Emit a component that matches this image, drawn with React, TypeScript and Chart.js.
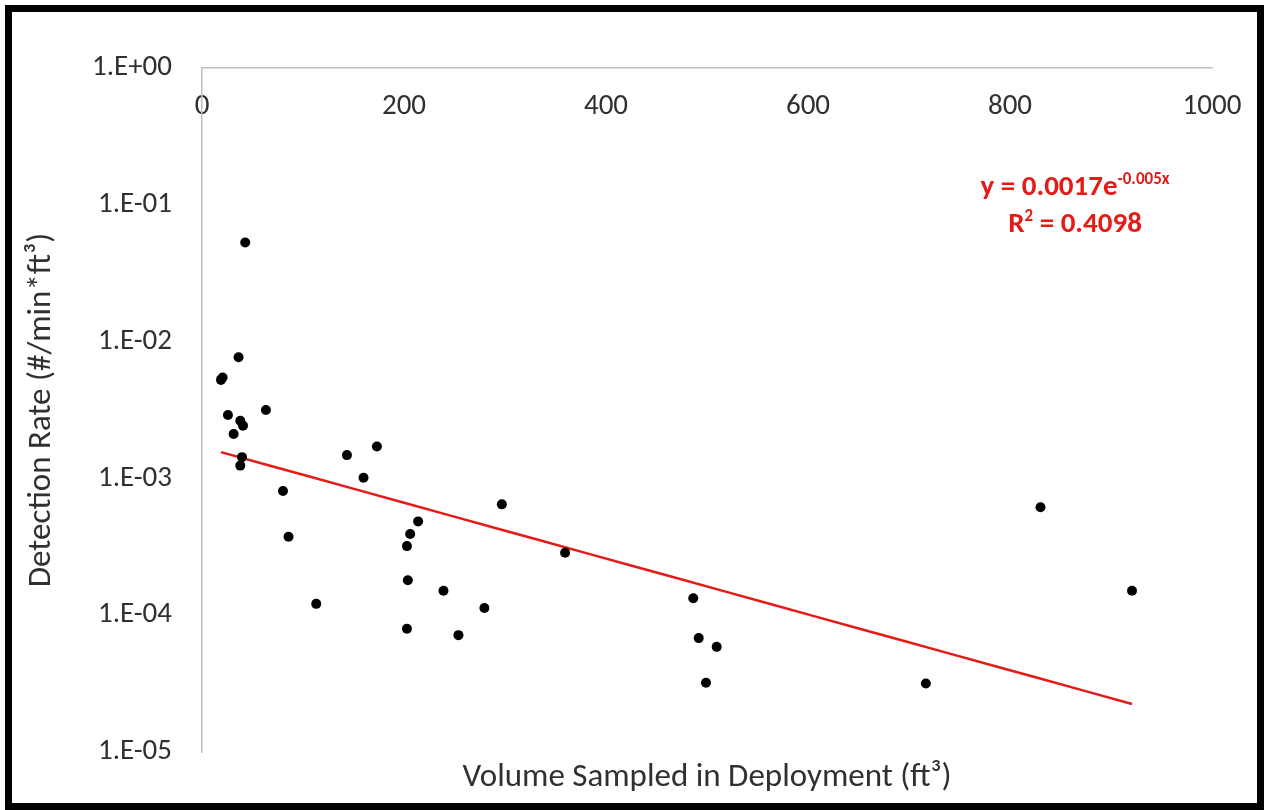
import { useEffect, useRef } from "react";
import { Chart, registerables } from "chart.js";

Chart.register(...registerables);

// Deployment volume (ft³) and detection rate (#/min*ft³) for each sample
const volumeSampled = [
  42.8, 18.8, 20.4, 36.2, 25.7, 63.3, 37.9, 40.6, 31.3, 39.6, 37.9, 80.2, 85.7,
  113.1, 143.5, 159.9, 173.2, 214, 206.1, 202.9, 203.8, 202.9, 296.9, 239.1,
  279.6, 253.9, 359.5, 486.4, 491.8, 509.6, 499, 716.7, 830.2, 920.8,
];
const detectionRate = [
  0.053, 0.00525, 0.00546, 0.00769, 0.00291, 0.00316, 0.00264, 0.00243,
  0.00211, 0.00143, 0.00124, 0.00081, 0.000375, 0.000121, 0.00148, 0.00101,
  0.00171, 0.000485, 0.000392, 0.00032, 0.00018, 0.0000796, 0.000646,
  0.000151, 0.000113, 0.0000715, 0.000286, 0.000133, 0.000068, 0.0000587,
  0.0000321, 0.0000317, 0.000615, 0.000151,
];

const xTickValues = [0, 200, 400, 600, 800, 1000];
const yTickValues = [1e-5, 1e-4, 1e-3, 1e-2, 1e-1, 1];

// Exponential fit y = a·e^(b·x)
const trendCoefficient = 0.0017;
const trendRate = -0.0047;
const rSquared = 0.4098;

const FONT_FAMILY = "Carlito, Lato, 'Open Sans', sans-serif";
const TEXT_COLOR = "#303030";
const AXIS_COLOR = "#bfbfbf";
const FIT_COLOR = "#e41b17";

const formatPower = (v: number) => {
  const e = Math.round(Math.log10(v));
  return "1.E" + (e < 0 ? "-" : "+") + String(Math.abs(e)).padStart(2, "0");
};

// Trend curve sampled across the data range
const xMin = Math.min(...volumeSampled);
const xMax = Math.max(...volumeSampled);
const trendPoints = Array.from({ length: 21 }, (_, i) => {
  const x = xMin + ((xMax - xMin) * i) / 20;
  return { x, y: trendCoefficient * Math.exp(trendRate * x) };
});

// Draws the fit equation and R² in the upper right of the plot
const equationPlugin = {
  id: "fitEquation",
  afterDatasetsDraw(chart: Chart) {
    const { ctx } = chart;
    const mainFont = `bold 29px ${FONT_FAMILY}`;
    const supFont = `bold 17px ${FONT_FAMILY}`;
    const cx = 1075;
    const lines = [
      { parts: [{ t: `y = ${trendCoefficient}e`, sup: false }, { t: `${trendRate.toFixed(3)}x`, sup: true }], y: 195 },
      { parts: [{ t: "R", sup: false }, { t: "2", sup: true }, { t: ` = ${rSquared}`, sup: false }], y: 232 },
    ];
    ctx.save();
    ctx.fillStyle = FIT_COLOR;
    ctx.textBaseline = "alphabetic";
    ctx.textAlign = "left";
    for (const line of lines) {
      const widths = line.parts.map((p) => {
        ctx.font = p.sup ? supFont : mainFont;
        return ctx.measureText(p.t).width;
      });
      const total = widths.reduce((a, b) => a + b, 0);
      let x = cx - total / 2;
      line.parts.forEach((p, i) => {
        ctx.font = p.sup ? supFont : mainFont;
        ctx.fillText(p.t, x, p.sup ? line.y - 11 : line.y);
        x += widths[i];
      });
    }
    ctx.restore();
  },
};

export default function App() {
  const canvasRef = useRef<HTMLCanvasElement>(null);

  useEffect(() => {
    const canvas = canvasRef.current;
    if (!canvas) return;
    const tickFont = { family: FONT_FAMILY, size: 29 };
    const titleFont = { family: FONT_FAMILY, size: 33 };
    const chart = new Chart(canvas, {
      type: "scatter",
      data: {
        datasets: [
          {
            type: "scatter",
            data: volumeSampled.map((x, i) => ({ x, y: detectionRate[i] })),
            backgroundColor: "#000000",
            borderWidth: 0,
            pointRadius: 5,
            pointHoverRadius: 5,
            clip: false,
          },
          {
            type: "line",
            data: trendPoints,
            borderColor: FIT_COLOR,
            borderWidth: 2.5,
            pointRadius: 0,
            fill: false,
            tension: 0,
          },
        ],
      },
      plugins: [equationPlugin],
      options: {
        responsive: false,
        animation: false,
        layout: { padding: { left: 0, top: 0, right: 52, bottom: 0 } },
        plugins: {
          legend: { display: false },
          tooltip: { enabled: false },
        },
        scales: {
          x: {
            type: "linear",
            position: "top",
            min: 0,
            max: 1000,
            afterBuildTicks: (s: any) => {
              s.ticks = xTickValues.map((value) => ({ value }));
            },
            afterFit: (s: any) => {
              s.height = 68;
            },
            grid: { display: false, drawTicks: false },
            border: { display: true, color: AXIS_COLOR, width: 1.5 },
            ticks: {
              mirror: true,
              padding: 21,
              maxRotation: 0,
              autoSkip: false,
              font: tickFont,
              color: TEXT_COLOR,
              callback: (v: any) => String(v),
            },
          },
          x2: {
            type: "linear",
            position: "bottom",
            min: 0,
            max: 1000,
            afterFit: (s: any) => {
              s.height = 58;
            },
            grid: { display: false, drawTicks: false },
            border: { display: false },
            ticks: { display: false },
            title: {
              display: true,
              text: "Volume Sampled in Deployment (ft³)",
              font: titleFont,
              color: TEXT_COLOR,
              padding: { top: 0, bottom: 12 },
            },
          },
          y: {
            type: "logarithmic",
            position: "left",
            min: 1e-5,
            max: 1,
            afterBuildTicks: (s: any) => {
              s.ticks = yTickValues.map((value) => ({ value }));
            },
            afterFit: (s: any) => {
              s.width = 202;
            },
            grid: { display: false, drawTicks: false },
            border: { display: true, color: AXIS_COLOR, width: 1.5 },
            ticks: {
              padding: 30,
              font: tickFont,
              color: TEXT_COLOR,
              callback: (v: any) => formatPower(Number(v)),
            },
            title: {
              display: true,
              text: "Detection Rate (#/min*ft³)",
              font: titleFont,
              color: TEXT_COLOR,
              padding: { top: 22, bottom: 0 },
            },
          },
        },
      },
    });
    return () => chart.destroy();
  }, []);

  return (
    <div style={{ position: "absolute", left: 0, top: 0, width: 1264, height: 810, background: "#ffffff" }}>
      <canvas ref={canvasRef} width={1264} height={810} style={{ position: "absolute", left: 0, top: 0 }} />
      <div
        style={{
          position: "absolute",
          left: 5,
          top: 5,
          width: 1259,
          height: 805,
          border: "7px solid #000000",
          boxSizing: "border-box",
          pointerEvents: "none",
        }}
      />
    </div>
  );
}
